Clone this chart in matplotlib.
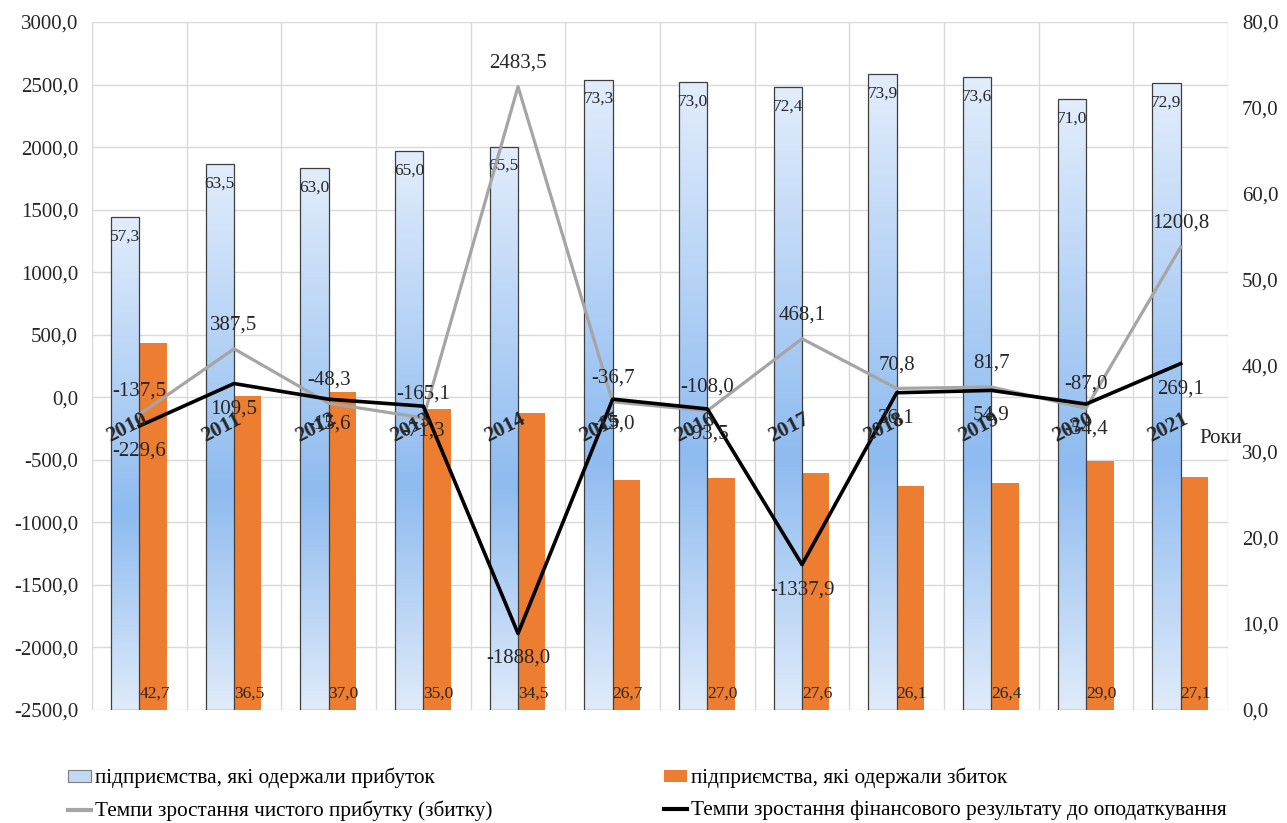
import numpy as np
import matplotlib
matplotlib.use("Agg")
import matplotlib.pyplot as plt
from matplotlib.patches import Patch
from matplotlib.lines import Line2D
from matplotlib.colors import LinearSegmentedColormap

plt.rcParams["font.family"] = ["Liberation Serif", "DejaVu Serif"]

years = ["2010", "2011", "2012", "2013", "2014", "2015",
         "2016", "2017", "2018", "2019", "2020", "2021"]
profit_share = [57.3, 63.5, 63.0, 65.0, 65.5, 73.3, 73.0, 72.4, 73.9, 73.6, 71.0, 72.9]
loss_share = [42.7, 36.5, 37.0, 35.0, 34.5, 26.7, 27.0, 27.6, 26.1, 26.4, 29.0, 27.1]
net_profit_growth = [-137.5, 387.5, -48.3, -165.1, 2483.5, -36.7,
                     -108.0, 468.1, 70.8, 81.7, -87.0, 1200.8]
pretax_growth = [-229.6, 109.5, -15.6, -71.3, -1888.0, -15.0,
                 -93.5, -1337.9, 36.1, 54.9, -54.4, 269.1]

label_profit = "підприємства, які одержали прибуток"
label_loss = "підприємства, які одержали збиток"
label_net = "Темпи зростання чистого прибутку (збитку)"
label_pretax = "Темпи зростання фінансового результату до оподаткування"

LEFT_MIN, LEFT_MAX = -2500, 3000
RIGHT_MIN, RIGHT_MAX = 0, 80
TXT = "#262626"
GRID = "#d9d9d9"


def fmt(v):
    return f"{v:.1f}".replace(".", ",")


fig = plt.figure(figsize=(12.87, 8.23), dpi=100)
ax = fig.add_axes([0.0715, 0.1373, 0.8827, 0.8360])
ax2 = ax.twinx()
ax.yaxis.tick_right()
ax2.yaxis.tick_left()

x = np.arange(len(years))

# grid on the bottom axes so that the bars cover it
for v in range(LEFT_MIN, LEFT_MAX + 1, 500):
    yy = (v - LEFT_MIN) / (LEFT_MAX - LEFT_MIN) * (RIGHT_MAX - RIGHT_MIN)
    ax.axhline(yy, color=GRID, lw=1.0, zorder=0)
for b in np.arange(-0.5, len(years), 1.0):
    ax.axvline(b, color=GRID, lw=1.0, zorder=0)

# blue bars with vertical gradient
grad_cmap = LinearSegmentedColormap.from_list(
    "blue_grad", [(0.0, "#e2edfc"), (0.6, "#8ebbf0"), (1.0, "#e0ebfa")])
grad = np.linspace(0, 1, 256).reshape(-1, 1)
bars_p = ax.bar(x - 0.15, profit_share, width=0.30, color="none",
                edgecolor="#3f3f3f", linewidth=0.9, zorder=3)
for bar in bars_p:
    x0 = bar.get_x()
    im = ax.imshow(grad, cmap=grad_cmap, aspect="auto", origin="upper",
                   extent=(x0, x0 + bar.get_width(), 0, bar.get_height()),
                   zorder=2, interpolation="bilinear")
    im.set_clip_path(bar)

bars_l = ax.bar(x + 0.145, loss_share, width=0.29, color="#ed7d31", zorder=2)

for bar, val in zip(bars_p, profit_share):
    ax.annotate(fmt(val), (bar.get_x() + bar.get_width() / 2, bar.get_height()),
                xytext=(0, -14), textcoords="offset points",
                ha="center", va="center", fontsize=12.5, color=TXT, zorder=5)
for bar, val in zip(bars_l, loss_share):
    ax.annotate(fmt(val), (bar.get_x() + bar.get_width() / 2, 0),
                xytext=(1, 12), textcoords="offset points",
                ha="center", va="center", fontsize=12.5, color=TXT, zorder=5)

ax.set_xlim(-0.5, len(years) - 0.5)
ax.set_ylim(RIGHT_MIN, RIGHT_MAX)
ax.set_yticks(np.arange(RIGHT_MIN, RIGHT_MAX + 1, 10))
ax.set_yticklabels([fmt(v) for v in np.arange(RIGHT_MIN, RIGHT_MAX + 1, 10)])
ax.set_xticks([])

# lines on the twin axes
ax2.plot(x, net_profit_growth, color="#a5a5a5", lw=2.3, zorder=3)
ax2.plot(x, pretax_growth, color="black", lw=2.6, zorder=4)
for xi, val in zip(x, net_profit_growth):
    ax2.annotate(fmt(val), (xi, val), xytext=(0, 17), textcoords="offset points",
                 ha="center", va="center", fontsize=15, color=TXT, zorder=6)
for xi, val in zip(x, pretax_growth):
    ax2.annotate(fmt(val), (xi, val), xytext=(0, -18), textcoords="offset points",
                 ha="center", va="center", fontsize=15, color=TXT, zorder=6)

ax2.set_ylim(LEFT_MIN, LEFT_MAX)
ax2.set_yticks(np.arange(LEFT_MIN, LEFT_MAX + 1, 500))
ax2.set_yticklabels([fmt(v) for v in np.arange(LEFT_MIN, LEFT_MAX + 1, 500)])

# category labels along the zero line of the left axis
for xi, yr in zip(x, years):
    ax2.text(xi + 0.02, -95, yr, rotation=27, rotation_mode="anchor",
             ha="right", va="top", fontsize=15.5, fontweight="bold",
             color=TXT, zorder=7)
ax2.text(0.9938, 0.394, "Роки", transform=ax2.transAxes, ha="center",
         va="center", fontsize=15, color=TXT)

for a in (ax, ax2):
    for s in a.spines.values():
        s.set_visible(False)
    a.tick_params(axis="y", length=0, labelsize=15, labelcolor=TXT, pad=10)

h1 = [Patch(facecolor="#c2d9f6", edgecolor="#7f7f7f", linewidth=0.8),
      Line2D([], [], color="#a5a5a5", lw=3)]
h2 = [Patch(facecolor="#ed7d31", edgecolor="none"),
      Line2D([], [], color="black", lw=3)]
common = dict(frameon=False, fontsize=15.3, handlelength=1.1, handleheight=0.5,
              handletextpad=0.15, labelspacing=0.58, borderaxespad=0,
              borderpad=0)
fig.legend(h1, [label_profit, label_net], loc="upper left",
           bbox_to_anchor=(68 / 1287, 1 - 768 / 823), **common)
fig.legend(h2, [label_loss, label_pretax], loc="upper left",
           bbox_to_anchor=(664 / 1287, 1 - 768 / 823), **common)

fig.savefig("out.png", dpi=100, facecolor="white")
